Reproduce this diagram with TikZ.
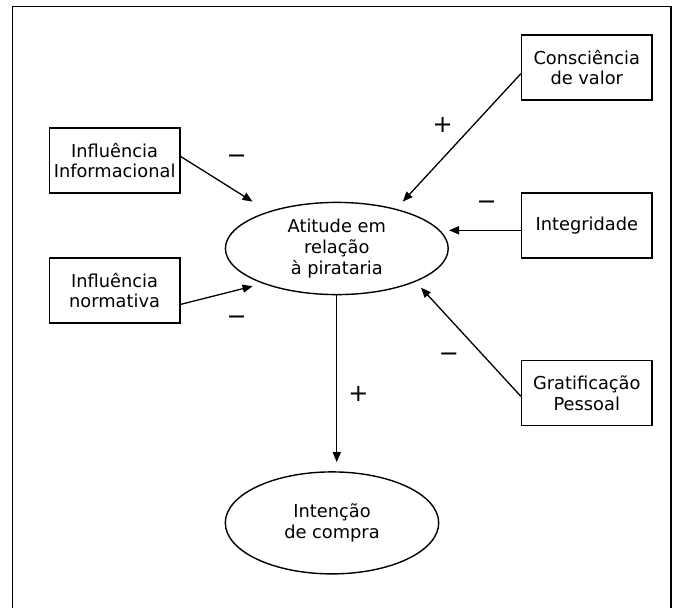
\documentclass[tikz,border=0pt]{standalone}
\usepackage{fontspec}
\setmainfont{DejaVu Sans}
\usetikzlibrary{shapes.geometric,arrows.meta,calc}
\begin{document}
\begin{tikzpicture}[x=1pt,y=-1pt,
  factor/.style={draw, line width=1.5pt, minimum width=130.4pt, minimum height=65pt,
    align=center, inner sep=0pt, font=\fontsize{17.8}{20.5}\selectfont},
  construct/.style={draw, ellipse, line width=1.4pt, align=center, inner sep=0pt,
    font=\fontsize{17.8}{21}\selectfont},
  link/.style={line width=1.3pt, -{Triangle[length=10pt,width=8pt]}},
  sign/.style={inner sep=0pt, font=\fontsize{24}{24}\selectfont}]
\useasboundingbox (0,0) rectangle (677,608);

% outer frame (open at the bottom)
\draw[line width=1.7pt] (12.5,608) -- (12.5,6.5) -- (671,6.5) -- (671,608);

% antecedent factors
\node[factor] (cons)  at (586.8,67.3)  {Consciência\\de valor};
\node[factor] (info)  at (114.6,160.4) {Influência\\Informacional};
\node[factor] (integ) at (586.8,225.3) {Integridade};
\node[factor] (norm)  at (114.6,290.4) {Influência\\normativa};
\node[factor] (grat)  at (586.8,393)   {Gratificação\\Pessoal};

% central constructs
\node[construct, minimum width=222.8pt, minimum height=92.2pt] (att) at (336.8,248.5)
  {Atitude em\\relação\\à pirataria};
\node[construct, minimum width=213.4pt, minimum height=102pt] (int) at (332,522.9)
  {Intenção\\de compra};

% arrow end points near the attitude ellipse
\coordinate (tinfo)  at (252.6,201.6);
\coordinate (tcons)  at (402.8,201.6);
\coordinate (tinteg) at (449,230.3);
\coordinate (tnorm)  at (252.6,286.2);
\coordinate (tgrat)  at (421,287.7);
\coordinate (tint)   at (336.8,462.2);
\coordinate (satt)   at (336.8,294.7);

% relations
\draw[link] ($(info.east)+(0,-4)$)   -- (tinfo);
\draw[link] ($(cons.west)+(0,6.4)$)  -- (tcons);
\draw[link] ($(integ.west)+(0,5)$)   -- (tinteg);
\draw[link] ($(norm.east)+(0,14)$)   -- (tnorm);
\draw[link] ($(grat.west)+(0,3.3)$)  -- (tgrat);
\draw[link] (satt) -- (tint);

% signs of the relations
\node[sign] (s1) at (236.7,159)   {−};
\node[sign] (s2) at (442.7,125)   {+};
\node[sign] (s3) at (486.6,205.5) {−};
\node[sign] (s4) at (236.7,320.3) {−};
\node[sign] (s5) at (449,357.5)   {−};
\node[sign] (s6) at (358.4,393.6) {+};
\end{tikzpicture}
\end{document}
